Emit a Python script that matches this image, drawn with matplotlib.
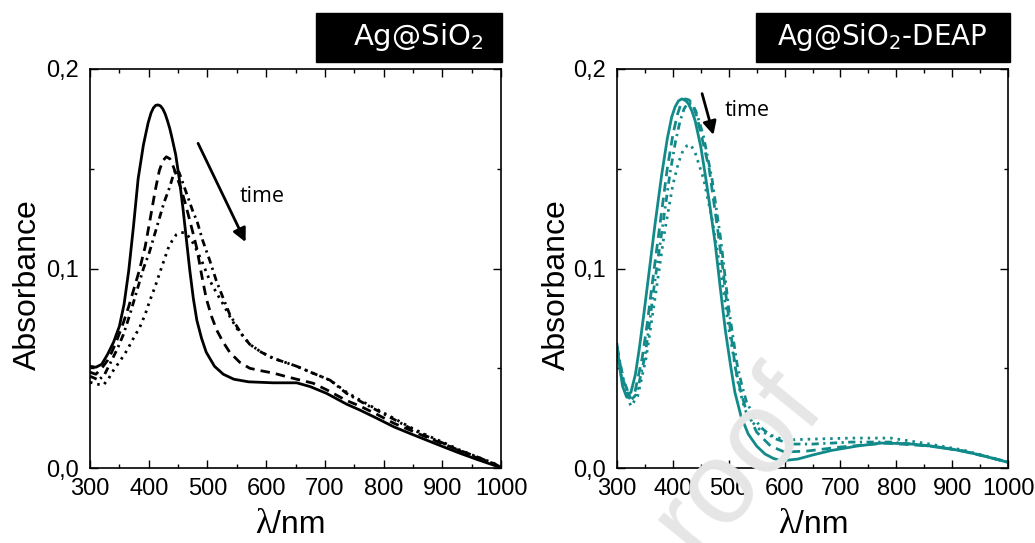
import matplotlib.pyplot as plt
from matplotlib.patches import Rectangle
from matplotlib.ticker import MultipleLocator, FuncFormatter

# ---- left panel: Ag@SiO2 (black), 4 spectra over time ----
wl_l0 = [300, 310, 320, 330, 340, 350, 358, 366, 374, 382, 391, 399, 404, 408, 412, 416, 420,
         424, 428, 432, 436, 440, 446, 452, 458, 464, 470, 476, 482, 490, 498, 512, 527, 545,
         570, 612, 652, 675, 703, 737, 760, 788, 817, 845, 873, 902, 930, 960, 987, 1000]
ab_l0 = [0.051, 0.0505, 0.052, 0.057, 0.063, 0.071, 0.082, 0.099, 0.121, 0.145, 0.162, 0.173,
         0.178, 0.1805, 0.1818, 0.182, 0.1815, 0.180, 0.1775, 0.174, 0.170, 0.165, 0.157, 0.145,
         0.131, 0.115, 0.099, 0.085, 0.074, 0.065, 0.058, 0.051, 0.047, 0.0445, 0.0432, 0.0427,
         0.0427, 0.0408, 0.0374, 0.032, 0.029, 0.025, 0.0207, 0.0173, 0.014, 0.0106, 0.0074,
         0.0042, 0.0015, 0.0]

wl_l1 = [300, 310, 320, 330, 337, 347, 357, 366, 374, 384, 394, 402, 411, 418, 424, 430,
         436, 442, 448, 455, 462, 470, 477, 482, 490, 498, 507, 516, 527, 538, 555, 572,
         592, 612, 632, 652, 680, 703, 737, 760, 788, 817, 845, 873, 902, 930, 960, 987, 1000]
ab_l1 = [0.048, 0.047, 0.050, 0.054, 0.058, 0.065, 0.073, 0.081, 0.089, 0.099, 0.111, 0.124,
         0.139, 0.149, 0.154, 0.156, 0.155, 0.151, 0.146, 0.140, 0.133, 0.124, 0.116, 0.110,
         0.097, 0.085, 0.076, 0.069, 0.063, 0.058, 0.053, 0.050, 0.0487, 0.0476, 0.046,
         0.0445, 0.0425, 0.0392, 0.0338, 0.031, 0.027, 0.0225, 0.019, 0.0155, 0.012, 0.0088,
         0.0055, 0.0022, 0.0005]

wl_l2 = [300, 308, 315, 325, 337, 347, 357, 368, 380, 391, 401, 409, 416, 426, 436, 442,
         447, 452, 458, 464, 470, 476, 482, 492, 504, 515, 527, 538, 550, 561, 572, 592,
         612, 632, 652, 680, 709, 737, 760, 788, 817, 845, 873, 902, 930, 960, 987, 1000]
ab_l2 = [0.046, 0.045, 0.044, 0.047, 0.054, 0.060, 0.067, 0.077, 0.089, 0.100, 0.108, 0.116,
         0.123, 0.133, 0.141, 0.147, 0.150, 0.148, 0.143, 0.138, 0.133, 0.128, 0.124, 0.114,
         0.104, 0.094, 0.085, 0.077, 0.071, 0.066, 0.062, 0.058, 0.055, 0.053, 0.051, 0.0475,
         0.044, 0.0374, 0.0335, 0.029, 0.0245, 0.020, 0.016, 0.0124, 0.0085, 0.005, 0.0022, 0.0005]

wl_l3 = [300, 312, 323, 332, 340, 352, 363, 374, 385, 394, 402, 411, 419, 426, 433, 440,
         447, 454, 461, 468, 475, 482, 490, 497, 504, 515, 527, 538, 550, 561, 572, 592,
         612, 632, 652, 680, 709, 737, 760, 788, 817, 845, 873, 902, 930, 960, 987, 1000]
ab_l3 = [0.043, 0.042, 0.0416, 0.045, 0.049, 0.054, 0.059, 0.065, 0.0707, 0.077, 0.084, 0.091,
         0.098, 0.104, 0.110, 0.114, 0.117, 0.118, 0.118, 0.116, 0.113, 0.109, 0.104, 0.099,
         0.094, 0.088, 0.082, 0.076, 0.070, 0.066, 0.062, 0.058, 0.055, 0.053, 0.051, 0.0475,
         0.044, 0.038, 0.034, 0.0295, 0.025, 0.0205, 0.0165, 0.0128, 0.009, 0.0055, 0.0025, 0.0005]

# ---- right panel: Ag@SiO2-DEAP (teal) ----
wl_r0 = [300, 305, 310, 317, 325, 333, 340, 348, 356, 368, 380, 390, 398, 404, 410, 416, 422,
         428, 434, 440, 450, 458, 467, 476, 485, 494, 503, 511, 522, 535, 550, 565, 580, 595,
         624, 650, 684, 730, 773, 820, 863, 900, 951, 1000]
ab_r0 = [0.062, 0.050, 0.041, 0.0357, 0.038, 0.047, 0.060, 0.077, 0.095, 0.122, 0.147, 0.165,
         0.176, 0.181, 0.184, 0.185, 0.1845, 0.1825, 0.179, 0.174, 0.161, 0.147, 0.130, 0.112,
         0.090, 0.069, 0.052, 0.038, 0.026, 0.017, 0.011, 0.007, 0.0048, 0.0036, 0.0045, 0.0065,
         0.0088, 0.011, 0.0125, 0.0122, 0.011, 0.0095, 0.0065, 0.0028]

wl_r1 = [300, 310, 322, 332, 345, 354, 362, 375, 390, 400, 408, 415, 422, 429, 436, 443, 450,
         465, 480, 489, 497, 505, 512, 521, 530, 550, 575, 600, 640, 700, 780, 860, 920, 1000]
ab_r1 = [0.061, 0.045, 0.035, 0.038, 0.055, 0.072, 0.090, 0.118, 0.150, 0.167, 0.177, 0.183,
         0.185, 0.1845, 0.182, 0.176, 0.168, 0.150, 0.120, 0.101, 0.082, 0.065, 0.050, 0.039,
         0.030, 0.018, 0.011, 0.008, 0.0085, 0.0105, 0.0125, 0.011, 0.0085, 0.003]

wl_r2 = [300, 312, 325, 335, 350, 358, 365, 380, 395, 405, 413, 420, 427, 434, 441, 448, 455,
         470, 486, 493, 500, 508, 515, 523, 532, 555, 580, 610, 650, 720, 790, 860, 920, 1000]
ab_r2 = [0.060, 0.044, 0.034, 0.037, 0.056, 0.072, 0.088, 0.118, 0.148, 0.164, 0.174, 0.180,
         0.183, 0.1825, 0.179, 0.173, 0.166, 0.145, 0.114, 0.097, 0.080, 0.065, 0.052, 0.042,
         0.033, 0.021, 0.015, 0.012, 0.012, 0.013, 0.013, 0.011, 0.0085, 0.003]

wl_r3 = [300, 312, 325, 337, 352, 360, 368, 385, 400, 410, 418, 425, 432, 440, 455, 470, 486,
         493, 500, 508, 515, 525, 535, 560, 600, 650, 720, 790, 860, 920, 1000]
ab_r3 = [0.058, 0.040, 0.031, 0.036, 0.055, 0.070, 0.085, 0.118, 0.142, 0.153, 0.159, 0.1615,
         0.162, 0.158, 0.145, 0.125, 0.098, 0.084, 0.070, 0.057, 0.045, 0.033, 0.025, 0.018,
         0.014, 0.0145, 0.015, 0.015, 0.012, 0.009, 0.003]

teal = '#138a8a'
styles = ['-', (0, (3.4, 2.2)), (0, (2.6, 1.6, 0.8, 1.6)), (0, (0.9, 1.8))]

plt.rcParams['font.family'] = ['Liberation Sans', 'DejaVu Sans']

fig = plt.figure(figsize=(10.35, 5.43), dpi=100)
axL = fig.add_axes([90/1035, 75/543, 411/1035, 399/543])
axR = fig.add_axes([617/1035, 75/543, 391/1035, 399/543])

left = [(wl_l0, ab_l0), (wl_l1, ab_l1), (wl_l2, ab_l2), (wl_l3, ab_l3)]
right = [(wl_r0, ab_r0), (wl_r1, ab_r1), (wl_r2, ab_r2), (wl_r3, ab_r3)]

for (x, y), ls in zip(left, styles):
    axL.plot(x, y, color='black', lw=2.0, linestyle=ls)
for (x, y), ls in zip(right, styles):
    axR.plot(x, y, color=teal, lw=2.0, linestyle=ls)

comma = FuncFormatter(lambda v, p: f'{v:.1f}'.replace('.', ','))
for ax in (axL, axR):
    ax.set_xlim(300, 1000)
    ax.set_ylim(0, 0.2)
    ax.xaxis.set_major_locator(MultipleLocator(100))
    ax.xaxis.set_minor_locator(MultipleLocator(50))
    ax.yaxis.set_major_locator(MultipleLocator(0.1))
    ax.yaxis.set_minor_locator(MultipleLocator(0.05))
    ax.yaxis.set_major_formatter(comma)
    ax.tick_params(which='both', direction='in', top=True, right=True, width=1.0)
    ax.tick_params(which='major', length=6, labelsize=17)
    ax.tick_params(which='minor', length=3)
    ax.tick_params(axis='x', pad=7)
    ax.tick_params(axis='y', pad=8)
    for s in ax.spines.values():
        s.set_linewidth(1.2)
    ax.set_ylabel('Absorbance', fontsize=23)

axL.yaxis.set_label_coords(-0.115, 0.46)
axR.yaxis.set_label_coords(-0.115, 0.46)

# x labels: serif lambda + sans "/nm"
for ax, split in ((axL, 0.443), (axR, 0.455)):
    ax.text(split, -0.163, 'λ', transform=ax.transAxes, fontsize=25,
            family=['Liberation Serif', 'DejaVu Serif'], ha='right', va='baseline')
    ax.text(split, -0.163, '/nm', transform=ax.transAxes, fontsize=23,
            ha='left', va='baseline')

# time arrows
axL.annotate('', xy=(567, 0.112), xytext=(482, 0.164),
             arrowprops=dict(arrowstyle='-|>', color='black', lw=2, mutation_scale=20))
axL.text(554, 0.136, 'time', fontsize=15.5, family=['Open Sans', 'DejaVu Sans'], va='center')
axR.annotate('', xy=(474, 0.1656), xytext=(451, 0.189),
             arrowprops=dict(arrowstyle='-|>', color='black', lw=2, mutation_scale=20))
axR.text(492, 0.179, 'time', fontsize=15.5, family=['Open Sans', 'DejaVu Sans'], va='center')

# title boxes
fig.add_artist(Rectangle((316/1035, 481/543), 186/1035, 49/543,
                         transform=fig.transFigure, color='black'))
fig.add_artist(Rectangle((756/1035, 481/543), 254/1035, 49/543,
                         transform=fig.transFigure, color='black'))
fig.text(418/1035, 506/543, r'Ag@SiO$_\mathregular{2}$', color='white', fontsize=21,
         family=['DejaVu Sans'], ha='center', va='center')
fig.text(882/1035, 506/543, r'Ag@SiO$_\mathregular{2}$-DEAP', color='white', fontsize=20,
         family=['DejaVu Sans'], ha='center', va='center')

# watermark fragment
fig.text(698/1035, -16/543, 'roof', color='#e6e6e6', fontsize=84, rotation=51,
         rotation_mode='anchor', ha='left', va='baseline', zorder=10)

fig.savefig('out.png', dpi=100)
